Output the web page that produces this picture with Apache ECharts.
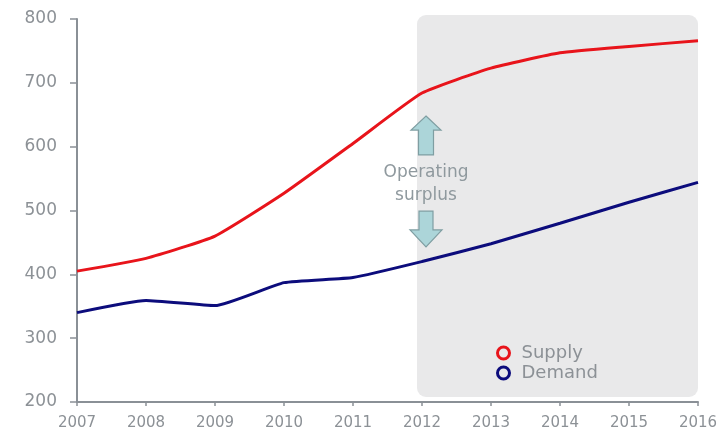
<!DOCTYPE html>
<html>
<head>
<meta charset="utf-8">
<script src="https://cdn.jsdelivr.net/npm/echarts@6/dist/echarts.min.js"></script>
<style>
  html, body { margin: 0; padding: 0; background: #fff; }
  #chart { width: 723px; height: 434px; }
</style>
</head>
<body>
<div id="chart"></div>
<script>
// Years on the horizontal axis
const years = ['2007', '2008', '2009', '2010', '2011', '2012', '2013', '2014', '2015', '2016'];
// Supply and demand levels per year
const supply = [405, 425, 460, 527, 605, 684, 723, 747, 757, 766];
const demand = [340, 359, 351, 387, 395, 420, 448, 480, 513, 544];
// Value axis range and tick step
const yMin = 200;
const yMax = 800;
const yStep = 100;
// Forecast band spans these years
const bandStart = '2012';
const bandEnd = '2016';
// Annotation text and the values its arrows and lines sit at
const noteLines = ['Operating', 'surplus'];
const upArrowTop = 648, upArrowBottom = 587;
const downArrowTop = 499, downArrowBottom = 443;
const noteLineValues = [560, 524];

const axisGrey = '#8a9096';
const textGrey = '#8c9196';
const font = 'DejaVu Sans';

const chart = echarts.init(document.getElementById('chart'), null, { renderer: 'canvas' });

chart.setOption({
  animation: false,
  backgroundColor: '#ffffff',
  grid: { left: 77, right: 25, top: 19, bottom: 32, containLabel: false },
  xAxis: {
    type: 'category',
    data: years,
    boundaryGap: false,
    axisLine: { lineStyle: { color: axisGrey, width: 2 } },
    axisTick: { alignWithLabel: true, length: 4, lineStyle: { color: axisGrey, width: 1.5 } },
    axisLabel: { color: textGrey, fontFamily: font, fontSize: 15, margin: 14 },
    splitLine: { show: false }
  },
  yAxis: {
    type: 'value',
    min: yMin,
    max: yMax,
    interval: yStep,
    axisLine: { show: true, lineStyle: { color: axisGrey, width: 2 } },
    axisTick: { show: true, length: 7, lineStyle: { color: axisGrey, width: 1.5 } },
    axisLabel: { color: textGrey, fontFamily: font, fontSize: 17, margin: 20 },
    splitLine: { show: false }
  },
  legend: {
    orient: 'vertical',
    left: 496,
    top: 344,
    padding: 0,
    itemWidth: 12,
    itemHeight: 12,
    itemGap: 2,
    icon: 'circle',
    textStyle: { color: textGrey, fontFamily: font, fontSize: 18, padding: [0, 0, 0, 7] },
    data: [
      { name: 'Supply', itemStyle: { color: 'transparent', borderColor: '#e8141b', borderWidth: 3 } },
      { name: 'Demand', itemStyle: { color: 'transparent', borderColor: '#0c0c7c', borderWidth: 3 } }
    ]
  },
  series: [
    {
      name: 'Supply',
      type: 'line',
      data: supply,
      showSymbol: false,
      smooth: 0.15,
      z: 5,
      lineStyle: { color: '#e8141b', width: 3 },
      itemStyle: { color: '#e8141b' }
    },
    {
      name: 'Demand',
      type: 'line',
      data: demand,
      showSymbol: false,
      smooth: 0.15,
      z: 5,
      lineStyle: { color: '#0c0c7c', width: 3 },
      itemStyle: { color: '#0c0c7c' }
    }
  ]
});

// Place the shaded band, arrows and note using the chart's own scales
function drawOverlay() {
  const px = (cat, val) => chart.convertToPixel({ gridIndex: 0 }, [cat, val]);
  const bandTL = px(bandStart, yMax);
  const bandBR = px(bandEnd, yMin);
  const cx = px(bandStart, yMin)[0] + 4;

  const upTop = px(bandStart, upArrowTop)[1];
  const upBot = px(bandStart, upArrowBottom)[1];
  const dnTop = px(bandStart, downArrowTop)[1];
  const dnBot = px(bandStart, downArrowBottom)[1];

  const upHead = 14, dnHead = 17;
  const upArrow = [
    [cx, upTop], [cx + 15, upTop + upHead], [cx + 7.5, upTop + upHead],
    [cx + 7.5, upBot], [cx - 7.5, upBot], [cx - 7.5, upTop + upHead], [cx - 15, upTop + upHead]
  ];
  const dnArrow = [
    [cx - 7, dnTop], [cx + 7, dnTop], [cx + 7, dnBot - dnHead], [cx + 16, dnBot - dnHead],
    [cx, dnBot], [cx - 16, dnBot - dnHead], [cx - 7, dnBot - dnHead]
  ];
  const arrowStyle = { fill: '#acd5d9', stroke: '#7f9ea2', lineWidth: 1.2 };

  const elements = [
    {
      type: 'rect',
      z: -10,
      silent: true,
      shape: {
        x: bandTL[0] - 5,
        y: bandTL[1] - 4,
        width: bandBR[0] - bandTL[0] + 5,
        height: bandBR[1] - bandTL[1] - 1,
        r: 9
      },
      style: { fill: '#e9e9ea' }
    },
    { type: 'polygon', z: 3, silent: true, shape: { points: upArrow }, style: arrowStyle },
    { type: 'polygon', z: 3, silent: true, shape: { points: dnArrow }, style: arrowStyle }
  ];
  noteLines.forEach((t, i) => {
    elements.push({
      type: 'text',
      z: 3,
      silent: true,
      x: cx,
      y: px(bandStart, noteLineValues[i])[1],
      style: {
        text: t,
        fill: '#8f999e',
        font: '17px "' + font + '"',
        align: 'center',
        verticalAlign: 'middle'
      }
    });
  });
  chart.setOption({ graphic: { elements } });
}
drawOverlay();
</script>
</body>
</html>
